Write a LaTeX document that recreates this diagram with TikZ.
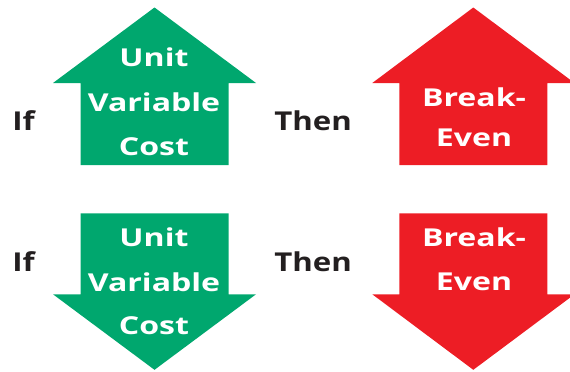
\documentclass[tikz,border=0pt]{standalone}
\usepackage{fontspec}
\newfontfamily\arrowfont[FakeStretch=1.3]{Open Sans Bold}
\newfontfamily\labelfont[FakeStretch=1.2]{Open Sans Bold}
\definecolor{agreen}{RGB}{0,167,110}
\definecolor{ared}{RGB}{237,29,37}
\definecolor{ink}{RGB}{35,31,32}
\begin{document}
\begin{tikzpicture}[x=0.75pt,y=-0.75pt,
  intext/.style={text=white,font=\arrowfont\fontsize{18.5}{20}\selectfont,anchor=base,inner sep=0pt},
  sidetext/.style={text=ink,font=\labelfont\fontsize{19.5}{21}\selectfont,anchor=base west,inner sep=0pt}]
\useasboundingbox (0,0) rectangle (570,371);
\clip (0,0) rectangle (570,371);
% up arrows
\fill[agreen] (154.5,7.5) -- (256,83) -- (228.7,83) -- (228.7,165) -- (80.7,165) -- (80.7,83) -- (53,83) -- cycle;
\fill[ared] (473.3,7.5) -- (574.5,83) -- (547.3,83) -- (547.3,165) -- (399.3,165) -- (399.3,83) -- (372.3,83) -- cycle;
% down arrows
\fill[agreen] (80.7,213.3) -- (228.7,213.3) -- (228.7,294.3) -- (256,294.3) -- (154.5,369.8) -- (53,294.3) -- (80.7,294.3) -- cycle;
\fill[ared] (399.3,213.3) -- (547.3,213.3) -- (547.3,294.3) -- (574.5,294.3) -- (473.3,369.8) -- (372.3,294.3) -- (399.3,294.3) -- cycle;
% texts top
\node[sidetext] (if1) at (12,130.7) {If};
\node[sidetext] (then1) at (274,130.7) {Then};
\node[intext] (u1) at (154,66.7) {Unit};
\node[intext] (v1) at (154,111) {Variable};
\node[intext] (c1) at (154,155) {Cost};
\node[intext] (b1) at (474,106) {Break-};
\node[intext] (e1) at (474,146.7) {Even};
% texts bottom
\node[sidetext] (if2) at (12,271.7) {If};
\node[sidetext] (then2) at (274,271.7) {Then};
\node[intext] (u2) at (154,246.7) {Unit};
\node[intext] (v2) at (154,291.5) {Variable};
\node[intext] (c2) at (154,334.5) {Cost};
\node[intext] (b2) at (474,246.7) {Break-};
\node[intext] (e2) at (474,290.7) {Even};
\end{tikzpicture}
\end{document}
